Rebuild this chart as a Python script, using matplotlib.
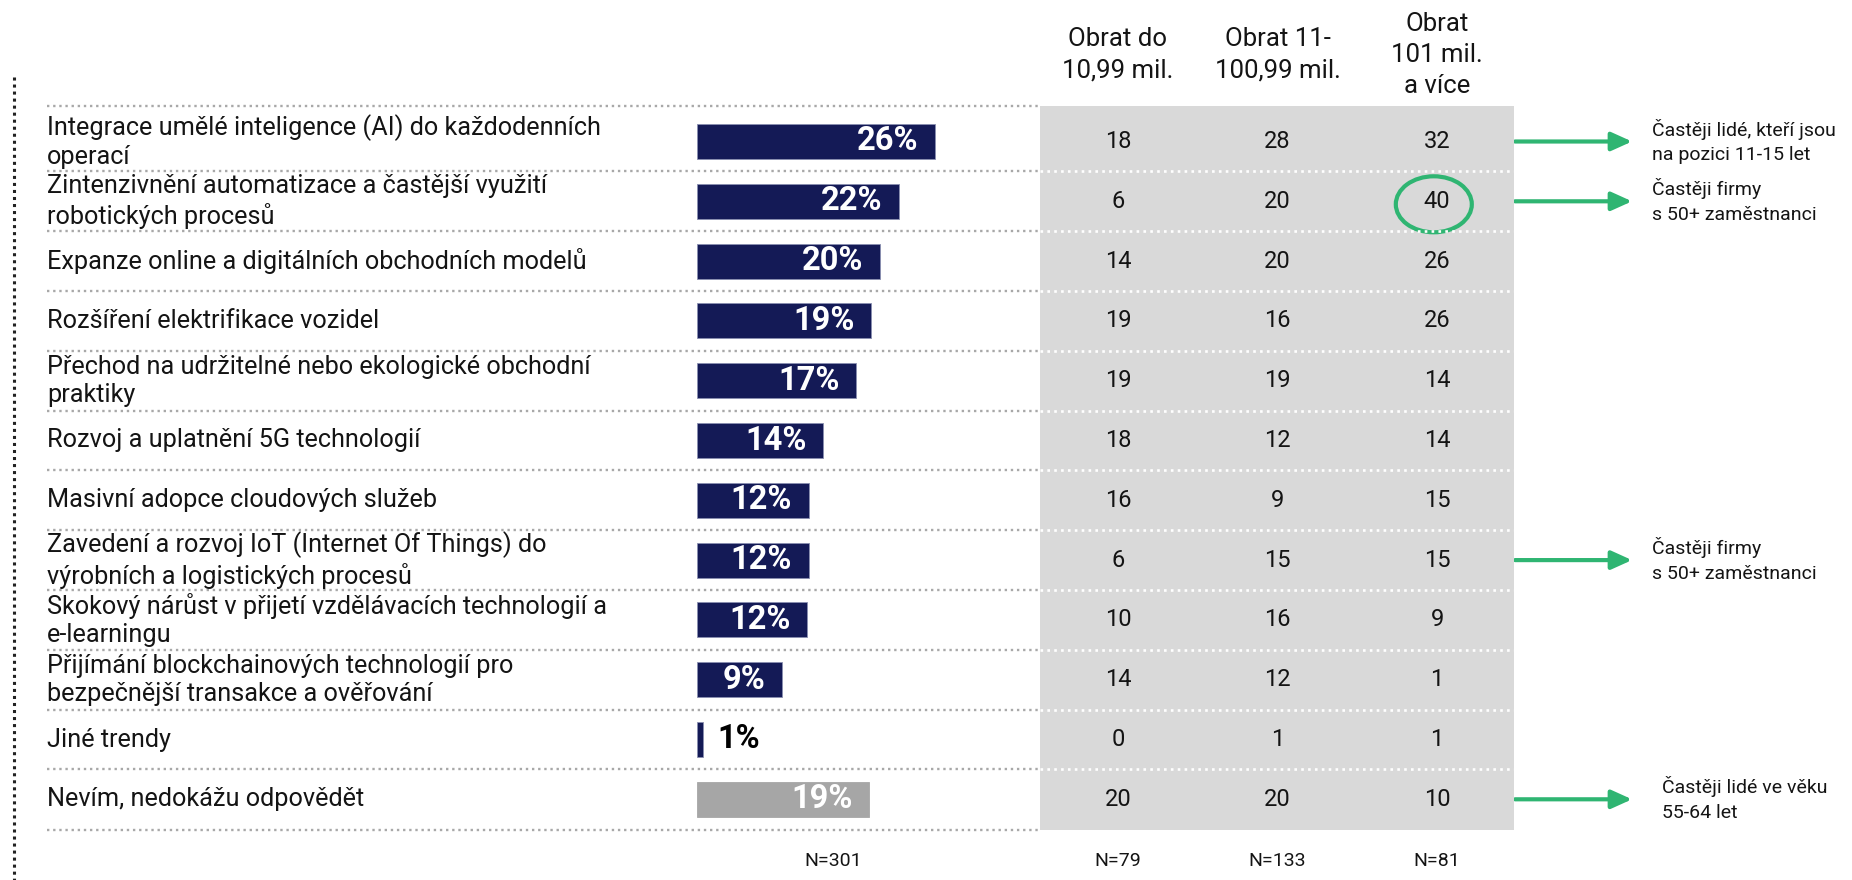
import matplotlib
matplotlib.use("Agg")
import matplotlib.pyplot as plt
from matplotlib.patches import Ellipse

plt.rcParams['font.family'] = ['Roboto', 'DejaVu Sans']

# ---------------- data ----------------
categories = [
    "Integrace umělé inteligence (AI) do každodenních\noperací",
    "Zintenzivnění automatizace a častější využití\nrobotických procesů",
    "Expanze online a digitálních obchodních modelů",
    "Rozšíření elektrifikace vozidel",
    "Přechod na udržitelné nebo ekologické obchodní\npraktiky",
    "Rozvoj a uplatnění 5G technologií",
    "Masivní adopce cloudových služeb",
    "Zavedení a rozvoj IoT (Internet Of Things) do\nvýrobních a logistických procesů",
    "Skokový nárůst v přijetí vzdělávacích technologií a\ne-learningu",
    "Přijímání blockchainových technologií pro\nbezpečnější transakce a ověřování",
    "Jiné trendy",
    "Nevím, nedokážu odpovědět",
]
total = [26.0, 22.1, 20.0, 19.0, 17.4, 13.8, 12.2, 12.2, 12.0, 9.3, 0.7, 18.8]
turnover_small = [18, 6, 14, 19, 19, 18, 16, 6, 10, 14, 0, 20]
turnover_mid = [28, 20, 20, 16, 19, 12, 9, 15, 16, 12, 1, 20]
turnover_large = [32, 40, 26, 26, 14, 14, 15, 15, 9, 1, 1, 10]
col_headers = ["Obrat do\n10,99 mil.", "Obrat 11-\n100,99 mil.", "Obrat\n101 mil.\na více"]
n_total = "N=301"
n_cols = ["N=79", "N=133", "N=81"]
notes = {
    0: "Častěji lidé, kteří jsou\nna pozici 11-15 let",
    1: "Častěji firmy\ns 50+ zaměstnanci",
    7: "Častěji firmy\ns 50+ zaměstnanci",
    11: "Častěji lidé ve věku\n55-64 let",
}
highlight = (1, 2)  # (row, column) circled

# ---------------- style ----------------
NAVY = "#141a56"
GREY_BAR = "#a6a6a6"
TABLE_BG = "#d9d9d9"
GREEN = "#2fb572"
TXT = "#141414"

W, H = 1852, 880
ROW0, ROWH = 141.5, 59.8
PX_PER_PCT = 9.15


def px2row(py):
    return (py - ROW0) / ROWH


y_top, y_bot = px2row(0), px2row(H)

fig = plt.figure(figsize=(W / 100, H / 100), dpi=100)

# overlay axes: x in pixels, y in row units
ax = fig.add_axes([0, 0, 1, 1])
ax.set_xlim(0, W)
ax.set_ylim(y_bot, y_top)
ax.axis("off")

# bar axes
bar_left = 697
axb = fig.add_axes([bar_left / W, 0, PX_PER_PCT * 30 / W, 1])
axb.set_xlim(0, 30)
axb.set_ylim(y_bot, y_top)
axb.axis("off")
axb.patch.set_alpha(0)

# table axes
tab_l, tab_r, tab_t, tab_b = 1040, 1514, 106, 830
col_sp = 159.5
axt = fig.add_axes([tab_l / W, 1 - tab_b / H, (tab_r - tab_l) / W, (tab_b - tab_t) / H])
x0 = -(1118 - tab_l) / col_sp
axt.set_xlim(x0, x0 + (tab_r - tab_l) / col_sp)
axt.set_ylim(px2row(tab_b), px2row(tab_t))
axt.set_facecolor(TABLE_BG)
for s in axt.spines.values():
    s.set_visible(False)
axt.set_xticks([])
axt.set_yticks([])

n = len(categories)
rows = list(range(n))

# separators
seps = [px2row(tab_t)] + [i + 0.5 for i in range(n - 1)] + [px2row(tab_b)]
dot = (0, (1, 1.6))
for s in seps:
    ax.plot([47, tab_l], [s, s], color="#a8a8a8", lw=1.7, linestyle=dot, zorder=1)
for s in seps[1:-1]:
    axt.axhline(s, color="white", lw=1.9, linestyle=dot)

# left dotted vertical line
ax.plot([14, 14], [px2row(77), y_bot], color="#222222", lw=2.2, linestyle=(0, (1, 1.3)))

# category labels
for r, lab in zip(rows, categories):
    ax.text(47, r, lab, ha="left", va="center", fontsize=18.2, color=TXT, linespacing=1.22)

# bars
colors = [NAVY] * (n - 1) + [GREY_BAR]
edges = ["#8a8fb0"] * (n - 1) + [GREY_BAR]
axb.barh(rows, total, height=0.585, color=colors, edgecolor=edges, linewidth=0.6)
for r, v in zip(rows, total):
    lbl = f"{round(v):d}%"
    if v < 3:
        axb.text(v + 1.5, r, lbl, ha="left", va="center", fontsize=23.5,
                 fontweight="bold", color="black")
    else:
        axb.text(v - 1.8, r, lbl, ha="right", va="center", fontsize=23.5,
                 fontweight="bold", color="white")
ax.text(833, px2row(861), n_total, ha="center", va="center", fontsize=14, color=TXT)

# table values
for c, col in enumerate([turnover_small, turnover_mid, turnover_large]):
    for r, v in zip(rows, col):
        axt.text(c, r, str(v), ha="center", va="center", fontsize=17, color=TXT)
    axt.text(c, px2row(55), col_headers[c], ha="center", va="center", fontsize=18.5,
             color=TXT, linespacing=1.37, clip_on=False)
    axt.text(c, px2row(861), n_cols[c], ha="center", va="center", fontsize=14,
             color=TXT, clip_on=False)

# highlight circle
hr, hc = highlight
axt.add_patch(Ellipse((hc - 0.02, hr + 0.05), 76 / col_sp, 56 / ROWH, fill=False,
                      edgecolor=GREEN, lw=3, clip_on=False))

# arrows + notes
for r, txt in notes.items():
    ax.annotate("", xy=(1632, r), xytext=(1515, r),
                arrowprops=dict(arrowstyle="-|>,head_length=0.62,head_width=0.28",
                                mutation_scale=20, color=GREEN, lw=3,
                                shrinkA=0, shrinkB=0))
    tx = 1662 if r == n - 1 else 1652
    ax.text(tx, r, txt, ha="left", va="center", fontsize=14, color=TXT, linespacing=1.5)

fig.savefig("out.png", dpi=100)
